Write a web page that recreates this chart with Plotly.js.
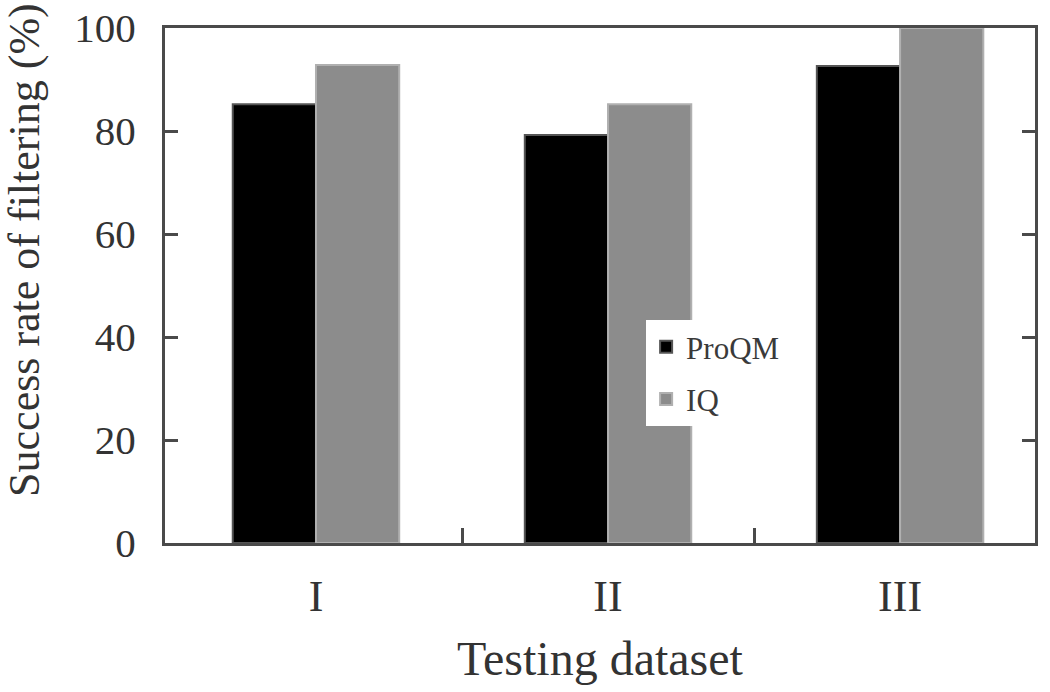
<!DOCTYPE html>
<html>
<head>
<meta charset="utf-8">
<script src="https://cdn.plot.ly/plotly-3.0.1.min.js"></script>
<style>html,body{margin:0;padding:0;background:#fff;}#chart{width:1050px;height:692px;}</style>
</head>
<body>
<div id="chart"></div>
<script>
const categories = ['I', 'II', 'III'];
const positions = [0, 1, 2];
const proqmValues = [85.2, 79.2, 92.6];
const iqValues = [92.8, 85.2, 100];
const yTicks = [0, 20, 40, 60, 80, 100];
const yTitle = 'Success rate of filtering (%)';
const xTitle = 'Testing dataset';

const font = 'Liberation Serif, Times New Roman, serif';

const traces = [
  {
    type: 'bar', name: 'ProQM', x: positions, y: proqmValues, legendgroup: 'a',
    marker: {color: '#000000', line: {color: '#555555', width: 2}}
  },
  {
    type: 'bar', name: 'IQ', x: positions, y: iqValues, legendgroup: 'b',
    marker: {color: '#8c8c8c', line: {color: '#b0b0b0', width: 2}}
  },
  {
    type: 'scatter', x: [0.5, 1.5], y: [null, null], xaxis: 'x2',
    showlegend: false, hoverinfo: 'skip', mode: 'markers'
  }
];

const xRange = [-0.517, 2.462];

const layout = {
  width: 1050, height: 692,
  margin: {l: 165, r: 15, t: 28, b: 149},
  paper_bgcolor: '#ffffff', plot_bgcolor: '#ffffff',
  barmode: 'group', bargap: 0.43, bargroupgap: 0,
  showlegend: true,
  legend: {
    x: 0.553, y: 0.433, xanchor: 'left', yanchor: 'top',
    bgcolor: '#ffffff', borderwidth: 0,
    font: {family: font, size: 31, color: '#3a3a3a'},
    itemwidth: 30, tracegroupgap: 9
  },
  font: {family: font, color: '#333333'},
  xaxis: {
    range: xRange, tickvals: positions, ticktext: categories,
    ticks: '', showgrid: false, zeroline: false,
    showline: true, mirror: true, linecolor: '#4a4a4a', linewidth: 3,
    tickfont: {family: font, size: 44, color: '#333333'},
    ticklabelstandoff: 12,
    title: {text: xTitle, font: {family: font, size: 48, color: '#333333'}, standoff: 22},
    fixedrange: true
  },
  xaxis2: {
    overlaying: 'x', range: xRange, tickvals: [0.5, 1.5],
    ticks: 'inside', ticklen: 15, tickwidth: 3, tickcolor: '#4a4a4a',
    showticklabels: false, showgrid: false, zeroline: false, showline: false,
    side: 'bottom', anchor: 'y'
  },
  yaxis: {
    range: [0, 100], tickvals: yTicks, ticktext: yTicks.map(String),
    ticks: 'inside', ticklen: 13, tickwidth: 3, tickcolor: '#4a4a4a',
    showgrid: false, zeroline: false,
    showline: true, mirror: 'ticks', linecolor: '#4a4a4a', linewidth: 3,
    tickfont: {family: font, size: 41, color: '#333333'},
    ticklabelstandoff: 18,
    fixedrange: true
  },
  annotations: [{
    text: yTitle, xref: 'paper', yref: 'paper',
    x: -0.161, y: 0.569, xanchor: 'center', yanchor: 'middle',
    textangle: -90, showarrow: false,
    font: {family: font, size: 44, color: '#333333'}
  }]
};

Plotly.newPlot('chart', traces, layout, {displayModeBar: false, staticPlot: true});
</script>
</body>
</html>
